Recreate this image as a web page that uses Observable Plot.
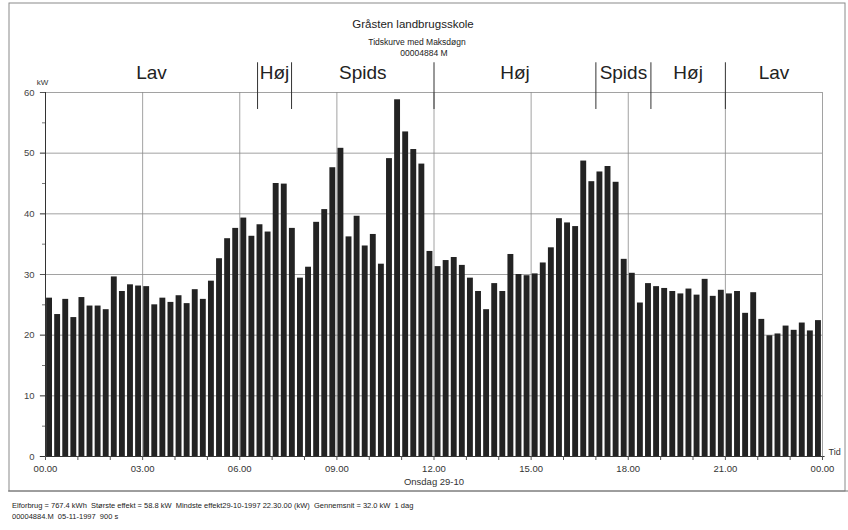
<!DOCTYPE html>
<html>
<head>
<meta charset="utf-8">
<script src="https://cdn.jsdelivr.net/npm/d3@7"></script>
<script src="https://cdn.jsdelivr.net/npm/@observablehq/plot@0.6"></script>
<style>
  body { margin: 0; background: #fff; }
  #wrap { position: relative; width: 848px; height: 530px; overflow: hidden; font-family: "Liberation Sans", Arial, sans-serif; color: #222; background: #fff; }
  .hd { position: absolute; white-space: nowrap; transform: translate(-50%, -50%); z-index: 3; }
  #chart { position: absolute; left: 0; top: 0; z-index: 1; }
  .ft { position: absolute; left: 12px; font-size: 7.5px; white-space: pre; transform: translateY(-50%); z-index: 3; }
</style>
</head>
<body>
<div id="wrap">
  <div id="chart"></div>
  <div class="hd" id="title" style="left:413px; top:24px; font-size:11.5px;"></div>
  <div class="hd" id="sub1" style="left:417px; top:42px; font-size:8.5px;"></div>
  <div class="hd" id="sub2" style="left:424px; top:53px; font-size:8.5px;"></div>
  <div class="ft" id="foot1" style="top:505px;"></div>
  <div class="ft" id="foot2" style="top:516px;"></div>
</div>
<script>
// 15-minute average power (kW), Onsdag 29-10, 00.00 - 24.00
const kW = [
  26.1, 23.4, 25.9, 22.9, 26.2, 24.8, 24.8, 24.2, 29.6, 27.2, 28.3, 28.1,
  28.0, 25.0, 26.1, 25.4, 26.5, 25.2, 27.5, 25.9, 28.9, 32.6, 35.9, 37.6,
  39.3, 36.3, 38.2, 37.0, 45.0, 44.9, 37.6, 29.4, 31.2, 38.6, 40.7, 47.6,
  50.8, 36.2, 39.6, 34.7, 36.6, 31.7, 49.1, 58.8, 53.5, 50.6, 48.2, 33.8,
  31.3, 32.3, 32.8, 31.5, 29.4, 27.2, 24.2, 28.5, 27.2, 33.3, 30.0, 29.8,
  30.1, 31.9, 34.4, 39.2, 38.5, 37.9, 48.7, 45.3, 46.9, 47.8, 45.2, 32.5,
  30.2, 25.3, 28.5, 28.0, 27.7, 27.2, 26.8, 27.6, 26.6, 29.2, 26.4, 27.4,
  26.8, 27.2, 23.6, 27.0, 22.6, 19.9, 20.2, 21.5, 20.8, 22.0, 20.7, 22.4
];
const hourLabels = ["00.00", "03.00", "06.00", "09.00", "12.00", "15.00", "18.00", "21.00", "00.00"];
const labelHours = [0, 3, 6, 9, 12, 15, 18, 21, 24];
const tariffBounds = [6.55, 7.6, 12, 17, 18.7, 21];
const tariffNames = ["Lav", "Høj", "Spids", "Høj", "Spids", "Høj", "Lav"];
const yTicks = [0, 10, 20, 30, 40, 50, 60];
const yMinor = [5, 15, 25, 35, 45, 55];

const titleText = "Gråsten landbrugsskole";
const sub1Text = "Tidskurve med Maksdøgn";
const sub2Text = "00004884 M";
const dayText = "Onsdag 29-10";
const foot1Text = "Elforbrug = 767.4 kWh  Største effekt = 58.8 kW  Mindste effekt29-10-1997 22.30.00 (kW)  Gennemsnit = 32.0 kW  1 dag";
const foot2Text = "00004884.M  05-11-1997  900 s";

document.getElementById("title").textContent = titleText;
document.getElementById("sub1").textContent = sub1Text;
document.getElementById("sub2").textContent = sub2Text;
document.getElementById("foot1").textContent = foot1Text;
document.getElementById("foot2").textContent = foot2Text;

const data = kW.map((v, i) => ({t: i * 0.25, v}));
const edges = [0, ...tariffBounds, 24];
const tariffs = tariffNames.map((name, i) => ({name, x: (edges[i] + edges[i + 1]) / 2}));
const hours = d3.range(0, 25);

const plot = Plot.plot({
  width: 848,
  height: 530,
  marginTop: 92,
  marginBottom: 74,
  marginLeft: 45,
  marginRight: 26,
  x: {domain: [0, 24]},
  y: {domain: [0, 60]},
  style: {fontFamily: "Liberation Sans, Arial, sans-serif", fontSize: "9px", color: "#333", background: "transparent", overflow: "visible"},
  marks: [
    // printed sheet frame, positioned in pixels through insets
    Plot.frame({insetTop: -89.5, insetLeft: -36.5, insetRight: -22.5, insetBottom: -34.5, stroke: "#8a8a8a", strokeWidth: 1}),
    Plot.ruleY([0], {dy: 34.5, insetLeft: -37, insetRight: -26, stroke: "#777", strokeWidth: 1}),
    Plot.ruleY(yTicks.filter(d => d > 0), {x1: -0.16, x2: 24, stroke: "#8a8a8a", strokeWidth: 0.8}),
    Plot.ruleX(labelHours.filter(d => d > 0), {y1: 0, y2: 60, stroke: "#8a8a8a", strokeWidth: 0.8}),
    Plot.rectY(data, {x1: "t", x2: d => d.t + 0.25, y: "v", fill: "#232323", insetLeft: 1.1, insetRight: 1.1}),
    Plot.axisY({ticks: yTicks, tickSize: 5, tickPadding: 6, label: null, stroke: "#555", fill: "#444", fontSize: 9.5}),
    Plot.axisY({ticks: yMinor, tickSize: 3, tickFormat: () => "", label: null, stroke: "#777"}),
    Plot.ruleX([0], {y1: 0, y2: 60, stroke: "#333", strokeWidth: 1}),
    Plot.ruleY([0], {x1: -0.16, x2: 24.08, stroke: "#333", strokeWidth: 1}),
    Plot.axisX({ticks: hours, tickSize: 4, tickFormat: () => "", label: null, stroke: "#555"}),
    Plot.axisX({ticks: labelHours, tickSize: 0, tickPadding: 9, tickFormat: (d, i) => hourLabels[i], label: null, fill: "#333", fontSize: 9.5}),
    Plot.ruleX(tariffBounds, {y1: 57.2, y2: 64.9, stroke: "#333", strokeWidth: 1}),
    Plot.text(tariffs, {x: "x", text: "name", frameAnchor: "top", lineAnchor: "middle", dy: -20, fontSize: 19, fill: "#222", fontFamily: "Liberation Sans Narrow, Liberation Sans, Arial, sans-serif"}),
    Plot.text(["kW"], {frameAnchor: "top-left", lineAnchor: "middle", textAnchor: "middle", dx: -3, dy: -10, fontSize: 8, fill: "#333"}),
    Plot.text(["Tid"], {frameAnchor: "bottom-right", lineAnchor: "middle", textAnchor: "start", dx: 6, dy: -4, fontSize: 9, fill: "#333"}),
    Plot.text([dayText], {frameAnchor: "bottom", lineAnchor: "middle", dy: 25, fontSize: 9.5, fill: "#333"})
  ]
});
document.getElementById("chart").appendChild(plot);
</script>
</body>
</html>
